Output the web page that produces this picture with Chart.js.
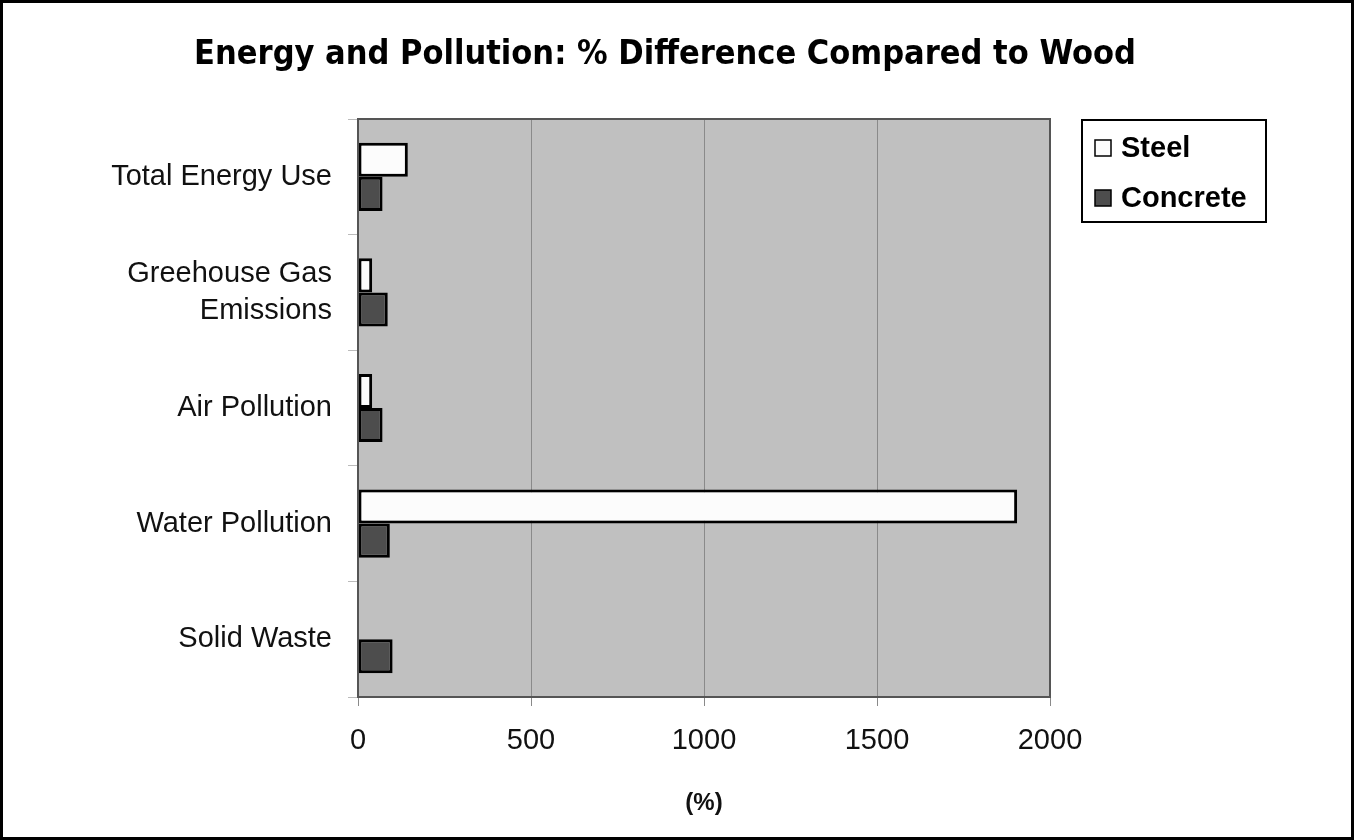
<!DOCTYPE html>
<html>
<head>
<meta charset="utf-8">
<script src="https://cdn.jsdelivr.net/npm/chart.js@4"></script>
<style>
  html, body { margin: 0; padding: 0; background: #fff; }
  #wrap { width: 1354px; height: 840px; position: relative; }
</style>
</head>
<body>
<div id="wrap"><canvas id="chart" width="1354" height="840"></canvas></div>
<script>
const chartTitle = "Energy and Pollution: % Difference Compared to Wood";
const categories = [
  "Total Energy Use",
  ["Greehouse Gas", "Emissions"],
  "Air Pollution",
  "Water Pollution",
  "Solid Waste",
];
const steelValues = [144, 41, 41, 1905, 0];
const concreteValues = [71, 86, 71, 92, 100];
const xTicks = [0, 500, 1000, 1500, 2000];

const FONT = "'Liberation Sans', Arial, sans-serif";

// fondo blanco, marco exterior, título y fondo gris del área
const framePlugin = {
  id: "frame",
  beforeDraw(chart) {
    const { ctx, chartArea: a } = chart;
    ctx.save();
    ctx.fillStyle = "#fff";
    ctx.fillRect(0, 0, chart.width, chart.height);
    ctx.fillStyle = "#c0c0c0";
    ctx.fillRect(a.left, a.top, a.right - a.left, a.bottom - a.top);
    ctx.restore();
  },
  afterDraw(chart) {
    const { ctx, chartArea: a } = chart;
    ctx.save();
    ctx.strokeStyle = "#555";
    ctx.lineWidth = 2;
    ctx.strokeRect(a.left, a.top, a.right - a.left, a.bottom - a.top);
    ctx.strokeStyle = "#000";
    ctx.lineWidth = 3;
    ctx.strokeRect(1.5, 1.5, chart.width - 3, chart.height - 3);

    // título
    ctx.fillStyle = "#000";
    ctx.font = "bold 34px 'DejaVu Sans Condensed', 'DejaVu Sans', sans-serif";
    ctx.textAlign = "center";
    ctx.textBaseline = "middle";
    ctx.fillText(chartTitle, 665, 55);

    // leyenda con recuadro
    const lx = 1082, ly = 120, lw = 184, lh = 102;
    ctx.fillStyle = "#fff";
    ctx.fillRect(lx, ly, lw, lh);
    ctx.strokeStyle = "#000";
    ctx.lineWidth = 2;
    ctx.strokeRect(lx, ly, lw, lh);
    ctx.font = "bold 29px " + FONT;
    ctx.textAlign = "left";
    chart.data.datasets.forEach((ds, i) => {
      const cy = 148 + i * 50;
      ctx.fillStyle = ds.backgroundColor;
      ctx.fillRect(1095, cy - 8, 16, 16);
      ctx.lineWidth = 1.5;
      ctx.strokeRect(1095, cy - 8, 16, 16);
      ctx.fillStyle = "#000";
      ctx.fillText(ds.label, 1121, cy + 1);
    });
    ctx.restore();
  },
};

new Chart(document.getElementById("chart").getContext("2d"), {
  type: "bar",
  data: {
    labels: categories,
    datasets: [
      {
        label: "Steel",
        data: steelValues,
        backgroundColor: "#fcfcfc",
        borderColor: "#000",
        borderWidth: 3,
        borderSkipped: false,
      },
      {
        label: "Concrete",
        data: concreteValues,
        backgroundColor: "#4d4d4d",
        borderColor: "#000",
        borderWidth: 3,
        borderSkipped: false,
      },
    ],
  },
  options: {
    indexAxis: "y",
    responsive: false,
    animation: false,
    datasets: { bar: { categoryPercentage: 0.59, barPercentage: 1.0 } },
    layout: { padding: { top: 119, right: 304, bottom: 22, left: 0 } },
    scales: {
      x: {
        min: 0,
        max: 2000,
        afterBuildTicks: (scale) => {
          scale.ticks = xTicks.map((v) => ({ value: v }));
        },
        afterFit: (scale) => {
          scale.height = 121;
        },
        grid: { color: "#8a8a8a", lineWidth: 1, tickLength: 9 },
        border: { display: false },
        ticks: {
          padding: 18,
          color: "#111",
          callback: (v) => String(v),
          font: { family: FONT, size: 29 },
        },
        title: {
          display: true,
          text: "(%)",
          color: "#111",
          padding: { top: 0, bottom: 0 },
          font: { family: FONT, size: 24, weight: "bold" },
        },
      },
      y: {
        afterFit: (scale) => {
          scale.width = 358;
        },
        grid: { drawOnChartArea: false, color: "#bbb", tickLength: 10, offset: true },
        border: { display: false },
        ticks: {
          padding: 16,
          color: "#111",
          font: { family: FONT, size: 29, lineHeight: 1.27 },
        },
      },
    },
    plugins: {
      legend: { display: false },
      tooltip: { enabled: false },
      title: { display: false },
    },
  },
  plugins: [framePlugin],
});
</script>
</body>
</html>
